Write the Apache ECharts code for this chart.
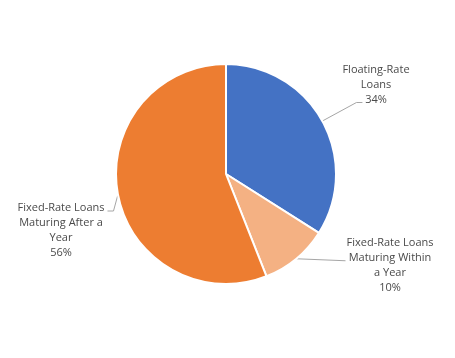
<!DOCTYPE html>
<html>
<head>
<meta charset="utf-8">
<script src="https://cdn.jsdelivr.net/npm/echarts@6/dist/echarts.min.js"></script>
<style>
html,body{margin:0;padding:0;background:#fff;}
#chart{width:455px;height:358px;}
</style>
</head>
<body>
<div id="chart"></div>
<script>
// Data
const categories = [
  'Floating-Rate\nLoans',
  'Fixed-Rate Loans\nMaturing Within\na Year',
  'Fixed-Rate Loans\nMaturing After a\nYear'
];
const values = [34, 10, 56];

// Styles (kept separate from data)
const colors = ['#4472C4', '#F4B183', '#ED7D31'];
// label centre positions (px)
const labelCenters = [[376, 85], [390, 265], [61, 230]];

const chart = echarts.init(document.getElementById('chart'), null, {renderer: 'canvas'});

const option = {
  backgroundColor: '#ffffff',
  animation: false,
  series: [{
    type: 'pie',
    center: [226, 174],
    radius: 110,
    startAngle: 90,
    clockwise: true,
    avoidLabelOverlap: false,
    data: categories.map((c, i) => ({
      name: c,
      value: values[i],
      itemStyle: {color: colors[i]}
    })),
    itemStyle: {borderColor: '#ffffff', borderWidth: 2},
    label: {
      show: true,
      position: 'outside',
      formatter: '{b}\n{d}%',
      fontFamily: 'Open Sans',
      fontSize: 11,
      lineHeight: 15,
      color: '#4a4a4a',
      align: 'center'
    },
    labelLine: {
      show: true,
      length: 20,
      length2: 10,
      lineStyle: {color: '#A6A6A6', width: 1}
    },
    labelLayout: function (params) {
      const i = params.dataIndex;
      const c = labelCenters[i];
      const w = params.labelRect.width;
      const h = params.labelRect.height;
      const left = c[0] - w / 2;
      const right = c[0] + w / 2;
      const top = c[1] - h / 2;
      const a = params.labelLinePoints ? params.labelLinePoints[0] : [0, 0];
      let pts;
      if (i === 0) {
        const y = top + h - 5;
        pts = [a, [left + 14, y], [left + 20, y]];
      } else if (i === 1) {
        pts = [a, [left - 1, a[1] + 2]];
      } else {
        const y = top + 11;
        pts = [a, [right + 9, y], [right + 3, y]];
      }
      return {
        x: c[0],
        y: c[1],
        align: 'center',
        verticalAlign: 'middle',
        labelLinePoints: pts
      };
    }
  }]
};
chart.setOption(option);
</script>
</body>
</html>
